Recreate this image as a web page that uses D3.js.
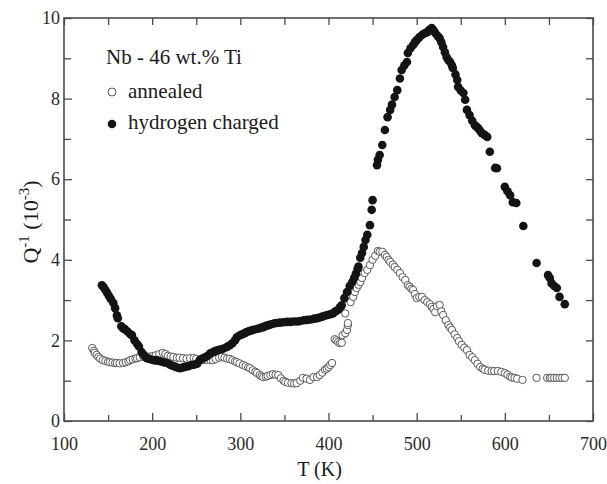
<!DOCTYPE html>
<html>
<head>
<meta charset="utf-8">
<script src="https://cdn.jsdelivr.net/npm/d3@7/dist/d3.min.js"></script>
<style>
  html, body { margin: 0; padding: 0; background: #fff; }
  svg { display: block; font-family: "Liberation Serif", "Times New Roman", serif; }
</style>
</head>
<body>
<script>
// ---- Data (T in K, Q^-1 in 10^-3) ----
const hydrogenT = [143,145,147,149,151,153,156,158,160,161,165,167,169,172,175,177,180,183,185,188,190,192,194,197,200,203,205,208,211,214,217,220,223,226,229,232,235,238,241,245,248,251,254,257,260,263,266,269,272,275,278,281,285,288,291,294,296,299,302,305,307,310,313,316,320,323,326,329,332,335,338,341,345,349,353,357,361,365,368,372,376,380,384,387,390,393,396,399,402,405,408,411,413,415,418,421,424,427,429,431,433,434,436,438,440,442,444,447,449,450,455,456,458,461,464,467,470,472,475,478,481,483,486,489,490,493,496,498,500,503,506,509,512,514,517,519,521,524,526,528,530,532,534,536,538,540,541,544,546,547,550,553,555,557,560,563,566,568,570,572,574,577,580,583,589,591,600,603,606,609,613,621,636,649,651,653,656,659,662,668];
const hydrogenQ = [3.37,3.32,3.25,3.18,3.1,3.03,2.93,2.8,2.62,2.55,2.35,2.3,2.28,2.22,2.16,2.13,2.0,1.91,1.85,1.71,1.65,1.6,1.56,1.54,1.52,1.5,1.51,1.49,1.47,1.45,1.44,1.4,1.37,1.35,1.32,1.31,1.33,1.35,1.36,1.39,1.4,1.42,1.51,1.55,1.58,1.62,1.68,1.71,1.74,1.76,1.78,1.8,1.84,1.88,1.93,2.0,2.08,2.12,2.15,2.18,2.21,2.23,2.25,2.27,2.29,2.31,2.33,2.36,2.38,2.4,2.42,2.43,2.44,2.45,2.46,2.46,2.47,2.47,2.48,2.5,2.51,2.52,2.54,2.55,2.57,2.59,2.61,2.63,2.65,2.67,2.72,2.76,2.82,2.87,3.05,3.2,3.35,3.45,3.55,3.65,3.78,3.83,4.05,4.17,4.32,4.49,4.62,4.86,5.24,5.48,6.35,6.48,6.6,6.85,7.22,7.54,7.72,7.85,8.04,8.21,8.5,8.71,8.82,8.91,9.13,9.25,9.33,9.4,9.45,9.52,9.58,9.62,9.65,9.7,9.75,9.7,9.63,9.55,9.5,9.4,9.28,9.15,9.03,8.95,8.91,8.82,8.76,8.6,8.46,8.29,8.2,8.14,7.97,7.72,7.59,7.45,7.34,7.3,7.26,7.2,7.14,7.1,7.05,6.68,6.28,6.27,5.81,5.7,5.6,5.43,5.41,4.84,3.92,3.62,3.55,3.42,3.35,3.3,3.08,2.9];

const annealedT = [132,134,135,137,139,141,144,147,150,152,155,158,160,163,167,170,173,175,178,181,183,186,190,193,197,201,204,208,212,215,218,221,224,228,231,235,239,243,247,250,254,258,262,266,269,272,276,279,282,285,288,291,294,296,299,303,306,309,311,314,317,319,322,324,326,329,331,334,337,340,343,346,349,351,354,358,361,364,368,371,375,379,383,387,390,393,396,398,400,402,404,407,409,411,413,415,416,419,421,422,422,419,425,428,430,432,434,436,438,441,444,447,450,453,456,458,461,464,466,468,470,473,475,478,481,484,487,490,492,494,496,498,500,503,506,509,512,515,517,519,521,523,526,528,530,533,536,538,540,543,546,548,551,554,557,560,563,566,569,572,575,577,581,585,588,592,596,600,603,606,608,611,614,620,636,648,651,653,656,659,662,665,668];
const annealedQ = [1.81,1.74,1.69,1.64,1.59,1.55,1.51,1.49,1.47,1.46,1.45,1.44,1.44,1.43,1.44,1.46,1.48,1.51,1.53,1.55,1.56,1.58,1.59,1.6,1.6,1.61,1.63,1.66,1.69,1.66,1.62,1.6,1.59,1.57,1.57,1.56,1.55,1.56,1.56,1.54,1.52,1.51,1.52,1.51,1.51,1.54,1.57,1.59,1.57,1.55,1.54,1.51,1.48,1.46,1.43,1.39,1.36,1.33,1.31,1.26,1.22,1.19,1.14,1.11,1.09,1.1,1.12,1.14,1.16,1.15,1.14,1.06,1.0,0.97,0.95,0.94,0.93,0.94,1.0,1.07,1.05,1.02,1.09,1.09,1.14,1.2,1.27,1.3,1.34,1.39,1.44,2.03,2.0,1.96,1.93,1.94,2.13,2.18,2.26,2.38,2.43,2.67,2.95,3.08,3.2,3.3,3.38,3.45,3.55,3.67,3.75,3.87,4.0,4.1,4.22,4.2,4.2,4.12,4.07,4.0,3.95,3.88,3.82,3.75,3.67,3.57,3.5,3.37,3.33,3.28,3.25,3.15,3.05,3.08,3.08,3.0,2.95,2.9,2.83,2.78,2.7,2.85,2.88,2.72,2.63,2.5,2.38,2.32,2.26,2.15,2.06,1.98,1.89,1.82,1.76,1.64,1.58,1.51,1.42,1.34,1.3,1.27,1.25,1.24,1.24,1.24,1.22,1.19,1.15,1.1,1.08,1.07,1.05,1.02,1.07,1.07,1.07,1.07,1.07,1.07,1.07,1.07,1.07];

const xTicks = [100,200,300,400,500,600,700];
const yTicks = [0,2,4,6,8,10];
const legendTitle = "Nb - 46 wt.% Ti";
const seriesNames = ["annealed", "hydrogen charged"];

// ---- Layout ----
const W = 607, H = 484;
const m = {left: 64, right: 14, top: 18, bottom: 63};
const iw = W - m.left - m.right, ih = H - m.top - m.bottom;
const FONT = "Liberation Serif, Times New Roman, serif";

const svg = d3.select("body").append("svg").attr("width", W).attr("height", H);
const g = svg.append("g").attr("transform", `translate(${m.left},${m.top})`);

const x = d3.scaleLinear().domain([100,700]).range([0, iw]);
const y = d3.scaleLinear().domain([0,10]).range([ih, 0]);

const axisColor = "#4a4a4a";
const xMinor = d3.range(150, 700, 100);
const yMinor = d3.range(1, 10, 2);

function styleAxis(sel) {
  sel.attr("font-family", FONT);
  sel.select(".domain").remove();
  sel.selectAll("line").attr("stroke", axisColor).attr("stroke-width", 1.3);
  sel.selectAll("text").attr("fill", "#2a2a2a").attr("font-size", 18);
}

// bottom
g.append("g").attr("transform", `translate(0,${ih})`)
  .call(d3.axisBottom(x).tickValues(xTicks).tickSize(-8).tickPadding(16).tickFormat(d3.format("d")))
  .call(styleAxis);
g.append("g").attr("transform", `translate(0,${ih})`)
  .call(d3.axisBottom(x).tickValues(xMinor).tickSize(-6).tickFormat(""))
  .call(styleAxis);
// top
g.append("g")
  .call(d3.axisTop(x).tickValues(xTicks.concat(xMinor)).tickSize(-7).tickFormat(""))
  .call(styleAxis);
// left
g.append("g")
  .call(d3.axisLeft(y).tickValues(yTicks).tickSize(-8).tickPadding(4).tickFormat(d3.format("d")))
  .call(styleAxis);
g.append("g")
  .call(d3.axisLeft(y).tickValues(yMinor).tickSize(-7).tickFormat(""))
  .call(styleAxis);
// right
g.append("g").attr("transform", `translate(${iw},0)`)
  .call(d3.axisRight(y).tickValues(yTicks.concat(yMinor)).tickSize(-7).tickFormat(""))
  .call(styleAxis);

// frame
g.append("rect").attr("x", 0).attr("y", 0).attr("width", iw).attr("height", ih)
  .attr("fill", "none").attr("stroke", axisColor).attr("stroke-width", 1.6);

// data
const annealed = annealedT.map((t, i) => ({t, q: annealedQ[i]}));
const hydrogen = hydrogenT.map((t, i) => ({t, q: hydrogenQ[i]}));

g.append("g").selectAll("circle").data(annealed).join("circle")
  .attr("cx", d => x(d.t)).attr("cy", d => y(d.q)).attr("r", 3.7)
  .attr("fill", "#fff").attr("stroke", "#5a5a5a").attr("stroke-width", 1);

g.append("g").selectAll("circle").data(hydrogen).join("circle")
  .attr("cx", d => x(d.t)).attr("cy", d => y(d.q)).attr("r", 4.3)
  .attr("fill", "#141414");

// legend
const lg = svg.append("g").attr("fill", "#1a1a1a").attr("font-family", FONT).attr("font-size", 21);
lg.append("text").attr("x", 106).attr("y", 64).text(legendTitle);
lg.append("circle").attr("cx", 112).attr("cy", 92).attr("r", 4).attr("fill", "#fff").attr("stroke", "#5a5a5a").attr("stroke-width", 1);
lg.append("text").attr("x", 128).attr("y", 98).text(seriesNames[0]);
lg.append("circle").attr("cx", 112).attr("cy", 124).attr("r", 4.3).attr("fill", "#141414");
lg.append("text").attr("x", 128).attr("y", 129).text(seriesNames[1]);

// axis titles
svg.append("text").attr("x", m.left + x(400) - 9).attr("y", 476)
  .attr("text-anchor", "middle").attr("fill", "#1a1a1a")
  .attr("font-family", FONT).attr("font-size", 20).text("T (K)");

const yt = svg.append("text").attr("transform", `translate(38,${222}) rotate(-90)`)
  .attr("text-anchor", "middle").attr("fill", "#1a1a1a")
  .attr("font-family", FONT).attr("font-size", 22);
yt.append("tspan").text("Q");
yt.append("tspan").attr("dy", -9).attr("font-size", 15).text("-1");
yt.append("tspan").attr("dy", 9).text(" (10");
yt.append("tspan").attr("dy", -9).attr("font-size", 15).text("-3");
yt.append("tspan").attr("dy", 9).text(")");
</script>
</body>
</html>
